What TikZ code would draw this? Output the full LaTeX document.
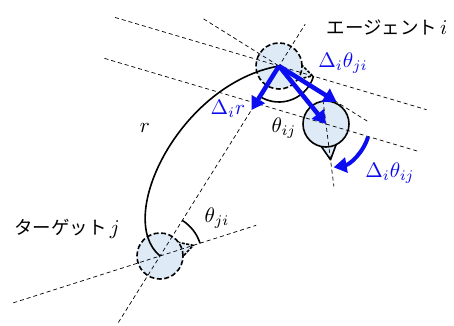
\documentclass[tikz,border=0pt]{standalone}
\usepackage{graphicx}
\usepackage{fontspec}
\newfontfamily\jpfont{Noto Sans CJK JP}
\usetikzlibrary{calc,arrows.meta}
\definecolor{bodyfill}{RGB}{222,235,247}
\definecolor{movblue}{RGB}{12,12,240}
\newcommand{\mlbl}[1]{\scalebox{2.1}{\normalsize$#1$}}
\tikzset{
  body/.style={circle,draw,line width=1.6pt,fill=bodyfill,minimum size=46pt,inner sep=0pt},
  ghost/.style={body,dash pattern=on 5pt off 2.5pt},
  nub/.style={draw,line width=1.6pt,fill=bodyfill,line join=round},
  guide/.style={line width=.7pt,dash pattern=on 4pt off 3pt},
  angl/.style={line width=1.6pt},
  move/.style={->,movblue,line width=4.5pt},
  jlbl/.style={font=\jpfont\fontsize{18.5}{22}\selectfont},
}
\begin{document}
\begin{tikzpicture}[x=1pt,y=1pt,>={Triangle[length=13pt,width=15pt]}]
    \useasboundingbox (0,0) rectangle (454,325);
    \coordinate (A) at (279,259);
    \coordinate (N) at (326,201);
    \coordinate (T) at (160,69);
    \draw[nub,dash pattern=on 3pt off 1.5pt] ([shift={(A)}]-41.5:21)--([shift={(A)}]-16.5:35)--([shift={(A)}]8.5:21);
    \draw[nub,dash pattern=on 3pt off 1.5pt] ([shift={(T)}]-7.3:21)--([shift={(T)}]17.7:35)--([shift={(T)}]42.7:21);
    \draw[nub] ([shift={(N)}]-107.8:21)--([shift={(N)}]-82.8:36)--([shift={(N)}]-57.8:21);
    \node[ghost] (agent) at (A) {};
    \node[ghost] (target) at (T) {};
    \node[body] (agentnew) at (N) {};
    \draw[guide] ($(T)!-0.35!(A)$)--($(T)!1.22!(A)$);
    \draw[guide] ([shift={(T)}]197.7:154)--([shift={(T)}]17.7:101);
    \draw[guide] ([shift={(A)}]163.5:171)--([shift={(A)}]-16.5:154);
    \draw[guide] ([shift={(A)}]148:89)--([shift={(A)}]-32:104);
    \draw[guide] ([shift={(N)}]163.5:231)--([shift={(N)}]-16.5:96);
    \draw[guide] ([shift={(N)}]97.2:24)--([shift={(N)}]-82.8:63);
    \draw[angl] ([shift={(A)}]-16.5:36) arc[start angle=-16.5,end angle=-122,radius=36];
    \draw[angl] ([shift={(T)}]17.7:42) arc[start angle=17.7,end angle=57.9,radius=42];
    \draw[angl] (agent.center) .. controls +(190:100) and +(140:60) .. (target.center);
    \draw[move] (agent.center)--($(A)!52pt!(T)$);
    \draw[move] (agent.center)--($(A)!68pt!90:(T)$);
    \draw[move] (agent.center)--(agentnew.center);
    \draw[move,line width=4pt] ([shift={(N)}]-17:44) arc[start angle=-17,end angle=-80,radius=44];
    \node[jlbl] (agentlbl) at (387,298) {エージェント\,\mlbl{i}};
    \node[jlbl] (targetlbl) at (67,96) {ターゲット\,\mlbl{j}};
    \node (rlbl) at (145,197) {\mlbl{r}};
    \node (thij) at (284,197) {\mlbl{\theta_{ij}}};
    \node (thji) at (217,107) {\mlbl{\theta_{ji}}};
    \node[movblue] (dthji) at (343,262) {\mlbl{\Delta_i\theta_{ji}}};
    \node[movblue] (dr) at (228,216) {\mlbl{\Delta_i r}};
    \node[movblue] (dthij) at (390,152) {\mlbl{\Delta_i\theta_{ij}}};
\end{tikzpicture}
\end{document}
